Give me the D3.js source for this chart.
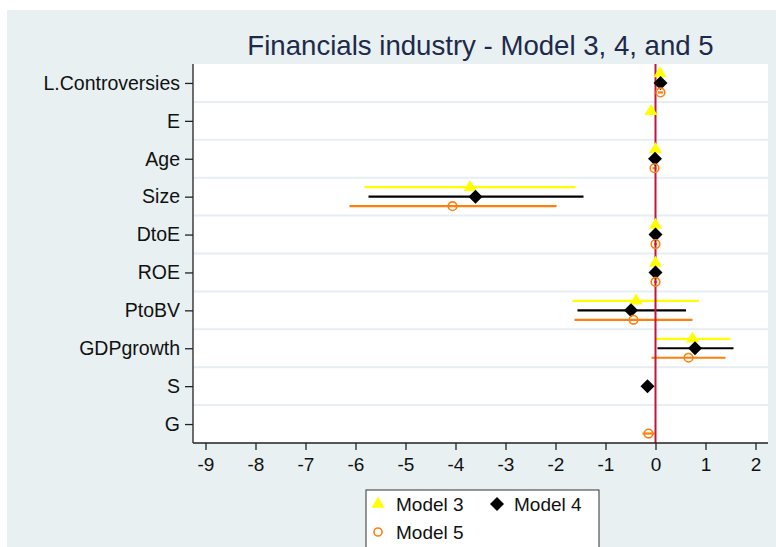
<!DOCTYPE html>
<html>
<head>
<meta charset="utf-8">
<script src="https://cdn.jsdelivr.net/npm/d3@7"></script>
<style>
  html, body { margin: 0; padding: 0; background: #ffffff; }
  svg { display: block; font-family: "Liberation Sans", Arial, sans-serif; }
</style>
</head>
<body>
<svg id="chart" width="776" height="547"></svg>
<script>
// Coefficient plot: point estimates with confidence intervals for three models
const categories = ["L.Controversies", "E", "Age", "Size", "DtoE", "ROE", "PtoBV", "GDPgrowth", "S", "G"];

// Model 3 (null = variable not in model)
const model3Coef = [0.09, -0.09, 0.00, -3.71, 0.00, 0.00, -0.39, 0.74, null, null];
const model3Lo   = [0.05, -0.12, -0.03, -5.82, -0.02, -0.02, -1.66, 0.01, null, null];
const model3Hi   = [0.13, -0.06, 0.03, -1.60, 0.02, 0.02, 0.87, 1.50, null, null];

// Model 4
const model4Coef = [0.10, null, -0.01, -3.60, 0.00, 0.00, -0.49, 0.79, -0.16, null];
const model4Lo   = [0.06, null, -0.04, -5.74, -0.02, -0.02, -1.56, 0.04, -0.20, null];
const model4Hi   = [0.14, null, 0.02, -1.44, 0.02, 0.02, 0.61, 1.56, -0.12, null];

// Model 5
const model5Coef = [0.10, null, -0.02, -4.06, 0.00, 0.00, -0.44, 0.66, null, -0.14];
const model5Lo   = [0.05, null, -0.06, -6.12, -0.03, -0.03, -1.62, -0.08, null, -0.26];
const model5Hi   = [0.15, null, 0.02, -1.98, 0.03, 0.03, 0.74, 1.40, null, -0.02];

const xTicks = [-9, -8, -7, -6, -5, -4, -3, -2, -1, 0, 1, 2];
const modelNames = ["Model 3", "Model 4", "Model 5"];
const titleText = "Financials industry - Model 3, 4, and 5";

const models = [
  { name: modelNames[0], coef: model3Coef, lo: model3Lo, hi: model3Hi, color: "#ffff00", shape: "triangle", offset: -0.25 },
  { name: modelNames[1], coef: model4Coef, lo: model4Lo, hi: model4Hi, color: "#000000", shape: "diamond", offset: 0 },
  { name: modelNames[2], coef: model5Coef, lo: model5Lo, hi: model5Hi, color: "#ff7f0e", shape: "circle", offset: 0.25 }
];

const svg = d3.select("#chart");
const W = 776, H = 547;
const plot = { left: 193, right: 768, top: 64, bottom: 443 };

// figure background
svg.append("rect").attr("x", 7).attr("y", 10).attr("width", W - 7).attr("height", H - 10)
  .attr("fill", "#e8f0f2");
// plot region
svg.append("rect").attr("x", plot.left).attr("y", plot.top)
  .attr("width", plot.right - plot.left).attr("height", plot.bottom - plot.top)
  .attr("fill", "#ffffff");

const x = d3.scaleLinear().domain([-9.25, 2.25]).range([plot.left, plot.right]);
const y = d3.scalePoint().domain(categories).range([plot.top, plot.bottom]).padding(0.5);
const step = y.step();

// horizontal separators between categories
svg.append("g").selectAll("line")
  .data(d3.range(1, categories.length))
  .join("line")
  .attr("x1", plot.left).attr("x2", plot.right)
  .attr("y1", i => y(categories[i]) - step / 2)
  .attr("y2", i => y(categories[i]) - step / 2)
  .attr("stroke", "#e6eef1").attr("stroke-width", 2);

// confidence intervals
const ciG = svg.append("g");
models.forEach(m => {
  const rows = categories.map((c, i) => ({ c, lo: m.lo[i], hi: m.hi[i] })).filter(d => d.lo !== null);
  ciG.append("g").selectAll("line").data(rows).join("line")
    .attr("x1", d => x(d.lo)).attr("x2", d => x(d.hi))
    .attr("y1", d => y(d.c) + m.offset * step)
    .attr("y2", d => y(d.c) + m.offset * step)
    .attr("stroke", m.color).attr("stroke-width", 2.2);
});

// reference line at zero
svg.append("line")
  .attr("x1", x(0)).attr("x2", x(0))
  .attr("y1", plot.top).attr("y2", plot.bottom)
  .attr("stroke", "#c4143c").attr("stroke-width", 2);

function markerPath(shape) {
  if (shape === "triangle") return "M0,-7.3L6.5,3.7L-6.5,3.7Z";
  if (shape === "diamond") return "M0,-7L7,0L0,7L-7,0Z";
  return null;
}

function drawMarker(g, shape, color) {
  if (shape === "circle") {
    g.append("circle").attr("r", 4.3).attr("fill", "none")
      .attr("stroke", color).attr("stroke-width", 1.6);
  } else {
    g.append("path").attr("d", markerPath(shape)).attr("fill", color);
  }
}

// point estimates
models.forEach(m => {
  const rows = categories.map((c, i) => ({ c, v: m.coef[i] })).filter(d => d.v !== null);
  const g = svg.append("g");
  rows.forEach(d => {
    const mg = g.append("g").attr("transform", `translate(${x(d.v)},${y(d.c) + m.offset * step})`);
    drawMarker(mg, m.shape, m.color);
  });
});

// axes
const yAxis = svg.append("g").attr("transform", `translate(${plot.left},0)`)
  .call(d3.axisLeft(y).tickSize(8).tickPadding(5));
yAxis.select(".domain").attr("d", `M0,${plot.top}V${plot.bottom}`).attr("stroke", "#222").attr("stroke-width", 1.3);
yAxis.selectAll(".tick line").attr("stroke", "#222").attr("stroke-width", 1.3);
yAxis.selectAll(".tick text").attr("fill", "#111").style("font-size", "19.5px");

const xAxis = svg.append("g").attr("transform", `translate(0,${plot.bottom})`)
  .call(d3.axisBottom(x).tickValues(xTicks).tickFormat(d => String(d)).tickSize(7).tickPadding(8));
xAxis.select(".domain").attr("d", `M${plot.left},0H${plot.right}`).attr("stroke", "#222").attr("stroke-width", 1.3);
xAxis.selectAll(".tick line").attr("stroke", "#222").attr("stroke-width", 1.3);
xAxis.selectAll(".tick text").attr("fill", "#111").style("font-size", "19px");

// title
svg.append("text")
  .attr("x", (plot.left + plot.right) / 2).attr("y", 55)
  .attr("text-anchor", "middle")
  .attr("fill", "#1e2a4a")
  .style("font-size", "27.6px")
  .text(titleText);

// legend
const lg = svg.append("g");
lg.append("rect").attr("x", 366).attr("y", 490).attr("width", 233).attr("height", 70)
  .attr("fill", "#ffffff").attr("stroke", "#333").attr("stroke-width", 1);
const legendPos = [
  { kx: 378, tx: 396, y: 504 },
  { kx: 497, tx: 514, y: 504 },
  { kx: 378, tx: 396, y: 532 }
];
models.forEach((m, i) => {
  const p = legendPos[i];
  const kg = lg.append("g").attr("transform", `translate(${p.kx},${p.y})`);
  if (m.shape === "circle") {
    kg.append("circle").attr("r", 4).attr("fill", "none").attr("stroke", m.color).attr("stroke-width", 1.6);
  } else {
    kg.append("path").attr("d", markerPath(m.shape)).attr("fill", m.color);
  }
  lg.append("text").attr("x", p.tx).attr("y", p.y).attr("dy", "0.35em")
    .attr("fill", "#111").style("font-size", "19px").text(m.name);
});
</script>
</body>
</html>
